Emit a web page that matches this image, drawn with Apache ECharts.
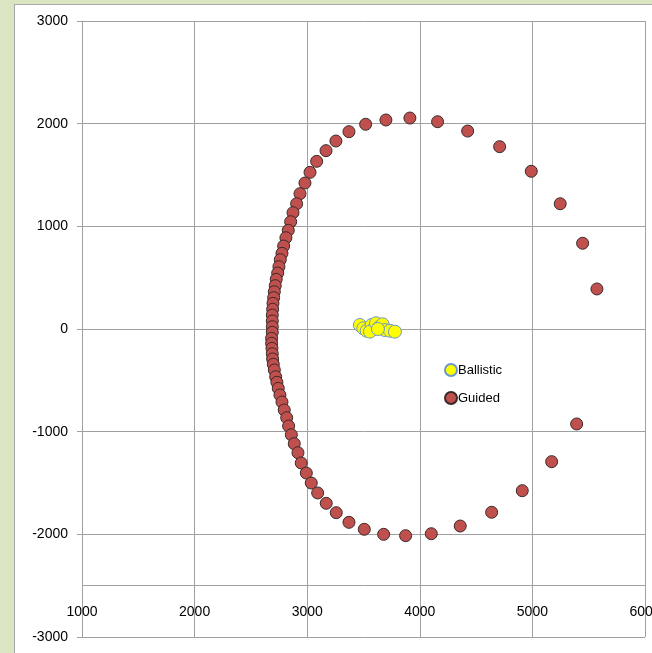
<!DOCTYPE html>
<html>
<head>
<meta charset="utf-8">
<script src="https://cdn.jsdelivr.net/npm/echarts@6/dist/echarts.min.js"></script>
<style>
html,body{margin:0;padding:0;width:652px;height:653px;overflow:hidden;background:#dbe5c1;}
#frame{position:absolute;left:14px;top:4px;width:700px;height:700px;background:#ffffff;border:1.5px solid #a8a8a8;box-sizing:border-box;}
#chart{position:absolute;left:0;top:0;width:652px;height:653px;}
</style>
</head>
<body>
<div id="frame"></div>
<div id="chart"></div>
<script>
// Data
const xTicks = [1000, 2000, 3000, 4000, 5000, 6000];
const yTicks = [-3000, -2000, -1000, 0, 1000, 2000, 3000];

const ballisticX = [3468, 3498, 3528, 3572, 3587, 3557, 3611, 3640, 3670, 3690, 3735, 3779, 3628];
const ballisticY = [39, 7, -17, 39, -3, -26, 56, 17, 46, -10, -17, -26, 0];

const guidedX = [5573, 5446, 5247, 4990, 4709, 4425, 4158, 3912, 3699, 3519, 3371, 3255, 3167, 3084, 3025, 2980, 2936, 2906, 2874, 2853, 2832, 2811, 2791, 2776, 2761, 2749, 2738, 2725, 2716, 2708, 2702, 2696, 2693, 2690, 2690, 2690, 2690, 2684, 2684, 2687, 2690, 2693, 2699, 2708, 2720, 2731, 2743, 2758, 2776, 2796, 2818, 2835, 2859, 2885, 2918, 2947, 2992, 3036, 3093, 3169, 3258, 3371, 3507, 3679, 3874, 4102, 4359, 4638, 4910, 5171, 5393];
const guidedY = [390, 835, 1220, 1536, 1776, 1928, 2019, 2055, 2036, 1994, 1922, 1831, 1737, 1633, 1526, 1422, 1318, 1220, 1133, 1045, 961, 889, 808, 737, 675, 607, 545, 484, 422, 363, 305, 250, 192, 136, 78, 22, -32, -91, -139, -188, -241, -292, -344, -399, -465, -519, -578, -643, -711, -789, -864, -945, -1030, -1117, -1205, -1305, -1403, -1500, -1597, -1698, -1789, -1883, -1951, -2000, -2013, -1994, -1919, -1785, -1575, -1292, -925];

const axisCrossY = -2500;

const ballistic = ballisticX.map((x, i) => [x, ballisticY[i]]);
const guided = guidedX.map((x, i) => [x, guidedY[i]]);

const chart = echarts.init(document.getElementById('chart'));
const font = 'Liberation Sans';
const gridColor = '#a0a0a0';

chart.setOption({
  backgroundColor: 'transparent',
  animation: false,
  grid: {left: 82, right: 7, top: 21, bottom: 16, containLabel: false, outerBoundsMode: 'none'},
  legend: {
    orient: 'vertical',
    left: 439,
    top: 358,
    itemGap: 14,
    itemWidth: 12,
    itemHeight: 12,
    icon: 'circle',
    textStyle: {fontFamily: font, fontSize: 13, color: '#000000', padding: [0, 0, 0, -4]},
    data: ['Ballistic', 'Guided']
  },
  xAxis: {
    type: 'value',
    min: xTicks[0],
    max: xTicks[xTicks.length - 1],
    interval: 1000,
    axisLine: {show: false},
    axisTick: {show: false},
    splitLine: {show: true, lineStyle: {color: gridColor, width: 1}},
    axisLabel: {
      margin: -32,
      fontFamily: font,
      fontSize: 14,
      color: '#000000',
      showMinLabel: true,
      showMaxLabel: true,
      hideOverlap: false,
      formatter: v => String(v)
    }
  },
  yAxis: {
    type: 'value',
    min: yTicks[0],
    max: yTicks[yTicks.length - 1],
    interval: 1000,
    axisLine: {show: true, onZero: false, lineStyle: {color: gridColor, width: 1}},
    axisTick: {show: true, length: 5, lineStyle: {color: gridColor}},
    splitLine: {show: true, lineStyle: {color: gridColor, width: 1}},
    axisLabel: {margin: 14, fontFamily: font, fontSize: 14, color: '#000000', formatter: v => String(v)}
  },
  series: [
    {
      name: 'Guided',
      type: 'scatter',
      data: guided,
      symbol: 'circle',
      symbolSize: 12,
      itemStyle: {color: '#c0504d', borderColor: '#3a2a2a', borderWidth: 1, opacity: 1},
      markLine: {
        silent: true,
        symbol: 'none',
        label: {show: false},
        lineStyle: {color: gridColor, type: 'solid', width: 1},
        data: [{yAxis: axisCrossY}]
      },
      z: 2
    },
    {
      name: 'Ballistic',
      type: 'scatter',
      data: ballistic,
      symbol: 'circle',
      symbolSize: 13,
      itemStyle: {color: '#ffff00', borderColor: '#6d98c8', borderWidth: 1, opacity: 1},
      z: 3
    }
  ]
});
</script>
</body>
</html>
